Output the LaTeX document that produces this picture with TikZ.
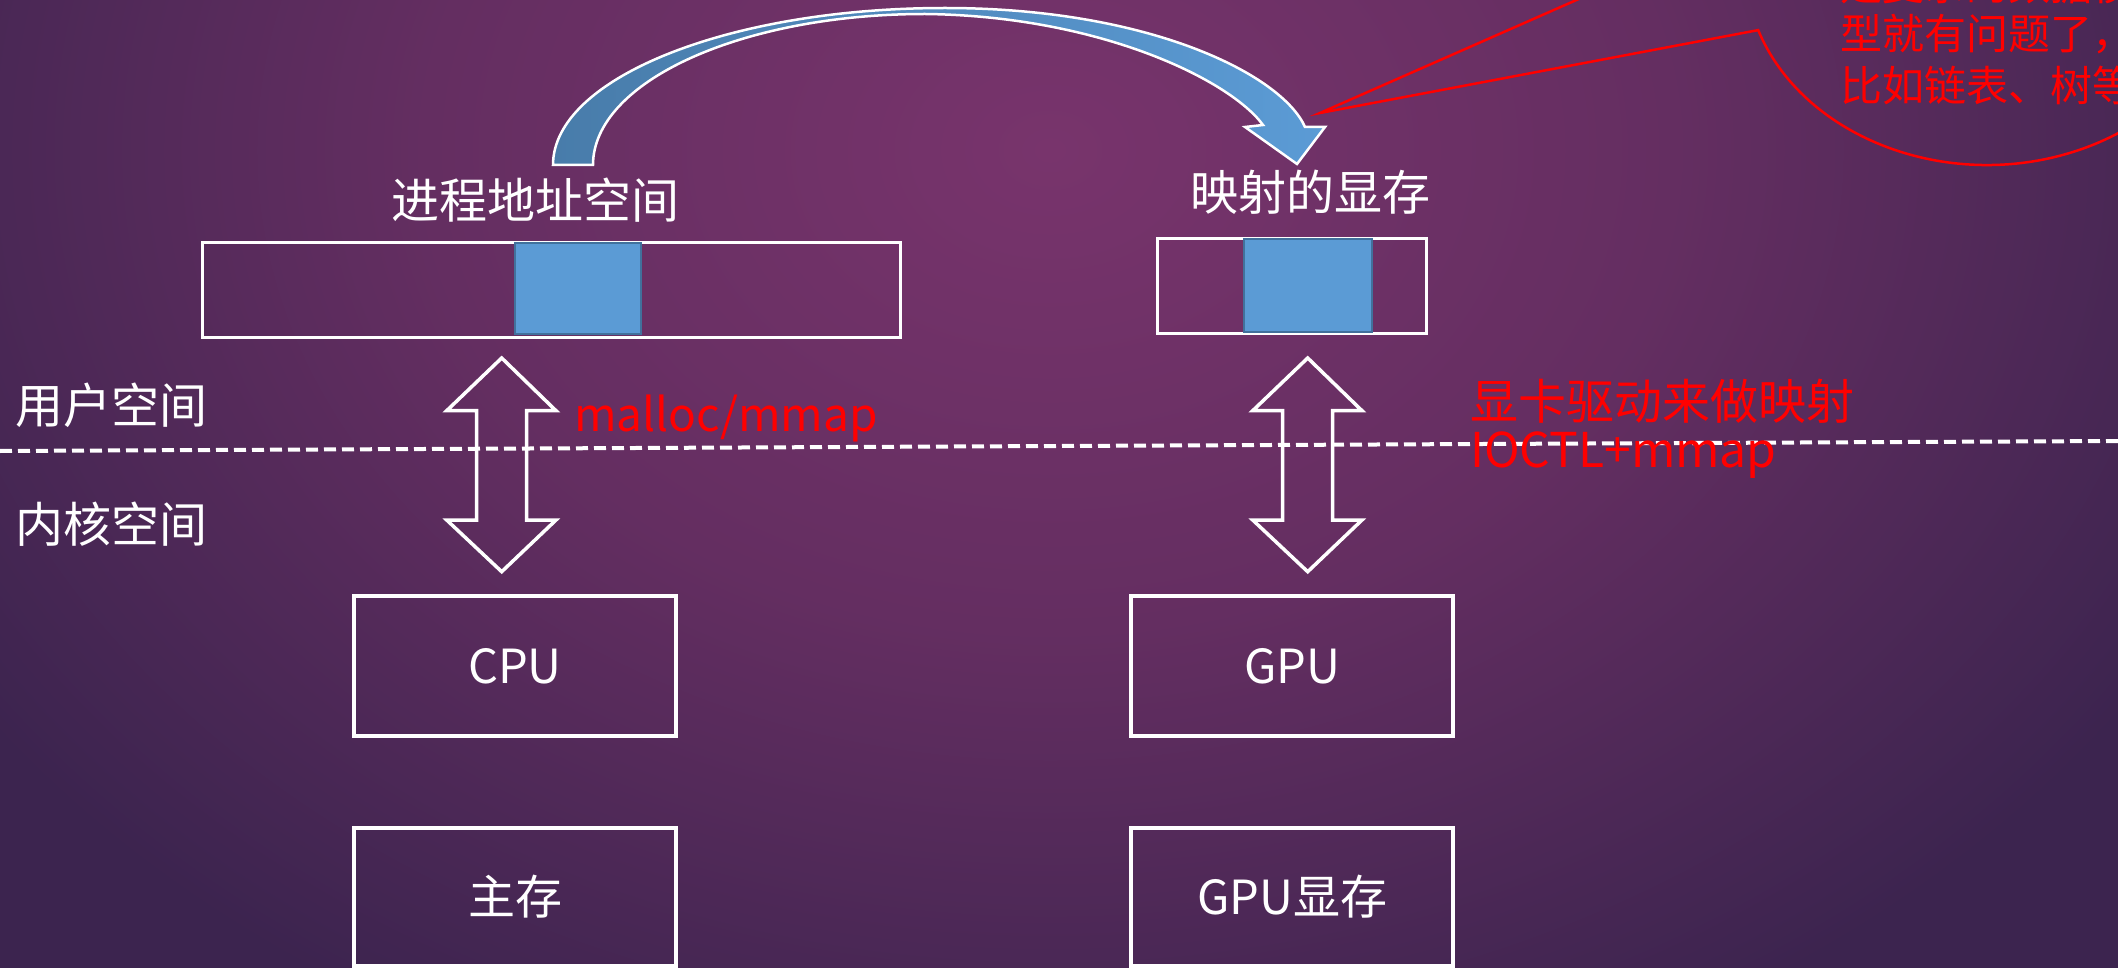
\documentclass[tikz,border=0pt]{standalone}
\usepackage{fontspec}
\setmainfont{Noto Sans CJK SC}
\usetikzlibrary{calc}
\definecolor{bgin}{RGB}{120,52,108}
\definecolor{bgmid}{RGB}{100,46,97}
\definecolor{bgout}{RGB}{60,36,79}
\definecolor{arcL}{RGB}{72,124,170}
\definecolor{arcR}{RGB}{91,155,213}
\definecolor{blk}{RGB}{91,155,213}
\definecolor{blkline}{RGB}{65,113,156}
\definecolor{callred}{RGB}{255,0,0}
\pgfdeclareradialshading{bgshade}{\pgfpoint{0bp}{0bp}}{color(0bp)=(bgin); color(12bp)=(bgmid); color(25bp)=(bgout); color(50bp)=(bgout)}
\begin{document}
\begin{tikzpicture}[x=1pt,y=-1pt,
  wbox/.style={draw=white, line width=3.5pt, minimum width=322pt, inner sep=0pt, text=white, font=\fontsize{47}{56}\selectfont},
  bar/.style={draw=white, line width=3pt, inner sep=0pt},
  blkbox/.style={fill=blk, draw=blkline, line width=2.5pt, inner sep=0pt},
  lbl/.style={text=white, font=\fontsize{48}{56}\selectfont, inner sep=0pt},
  redlbl/.style={text=callred, font=\fontsize{48}{56}\selectfont, inner sep=0pt, anchor=west},
  calltxt/.style={text=callred, font=\fontsize{42}{50}\selectfont, inner sep=0pt, anchor=west},
  dblarrow/.style={draw=white, line width=3.5pt, line join=miter},
  arcarrow/.style={left color=arcL, right color=arcR, draw=white, line width=2.5pt, line join=miter},
  sep/.style={draw=white, line width=4pt, dash pattern=on 12pt off 6pt},
  callout/.style={draw=callred, line width=2.5pt, line join=miter}
]
\useasboundingbox (0,0) rectangle (2118,968);
\begin{scope}
\clip (0,0) rectangle (2118,968);
% background
\fill[bgout] (0,0) rectangle (2118,968);
\shade[shading=bgshade] (1050,150) ellipse [x radius=1300, y radius=1000];

% address space bars
\node[bar, minimum width=698pt, minimum height=94.5pt] (procbar) at (551,290) {};
\node[blkbox, minimum width=126pt, minimum height=91pt] (procblk) at (578,288.5) {};
\node[bar, minimum width=269pt, minimum height=95pt] (vrambar) at (1292,286.5) {};
\node[blkbox, minimum width=128pt, minimum height=93pt] (vramblk) at (1308,285.5) {};

\node[lbl] (proclbl) at (535,200) {进程地址空间};
\node[lbl] (vramlbl) at (1310,192) {映射的显存};

% hardware boxes
\node[wbox, minimum height=140pt] (cpu) at (515,666) {CPU};
\node[wbox, minimum height=140pt] (gpu) at (1292,666) {GPU};
\node[wbox, minimum height=138pt] (mem) at (515,897) {主存};
\node[wbox, minimum height=138pt] (gmem) at (1292,897) {GPU显存};

% user/kernel labels
\node[lbl] (user) at (112,405) {用户空间};
\node[lbl] (kernel) at (112,524) {内核空间};

% separator
\coordinate (sepL) at (0,451);
\coordinate (sepR) at (2118,441);

% double arrows
\draw[dblarrow] (501.7,358) -- (556,410.7) -- (526.7,410.7) -- (526.7,520) -- (556,520) -- (501.7,571.7) -- (446.7,520) -- (476.7,520) -- (476.7,410.7) -- (446.7,410.7) -- cycle;
\begin{scope}[xshift=806pt]
\draw[dblarrow] (501.7,358) -- (556,410.7) -- (526.7,410.7) -- (526.7,520) -- (556,520) -- (501.7,571.7) -- (446.7,520) -- (476.7,520) -- (476.7,410.7) -- (446.7,410.7) -- cycle;
\end{scope}

\draw[sep] (sepL) -- (sepR);

% red labels
\node[redlbl, font=\fontsize{46}{54}\selectfont] (malloc) at (574,418) {malloc/mmap};
\node[redlbl] (drv) at (1470,401) {显卡驱动来做映射};
\node[redlbl] (ioctl) at (1470,455) {IOCTL+mmap};

% curved arrow
\draw[arcarrow] (553,165) .. controls (553,78.3) and (728.5,8) .. (945,8)
  .. controls (1150,8) and (1282,75) .. (1305,127)
  -- (1325,127) -- (1297,164) -- (1245,127) -- (1263,125)
  .. controls (1230,80) and (1100,16) .. (925,14)
  .. controls (741.6,14) and (593,81.6) .. (593,165) -- cycle;

% callout
\coordinate (cc) at (1987,-35);
\coordinate (ptip) at (1320,113);
\coordinate (pup) at ($(cc)+(192:242 and 200)$);
\coordinate (plow) at ($(cc)+(161:242 and 200)$);
\draw[callout] (pup) -- (ptip) -- (plow) arc[start angle=161, end angle=-168, x radius=242, y radius=200];
\node[calltxt] (cl1) at (1840,-15) {是复杂的数据模};
\node[calltxt] (cl2) at (1840,34) {型就有问题了，};
\node[calltxt] (cl3) at (1840,85) {比如链表、树等};
\end{scope}
\end{tikzpicture}
\end{document}
